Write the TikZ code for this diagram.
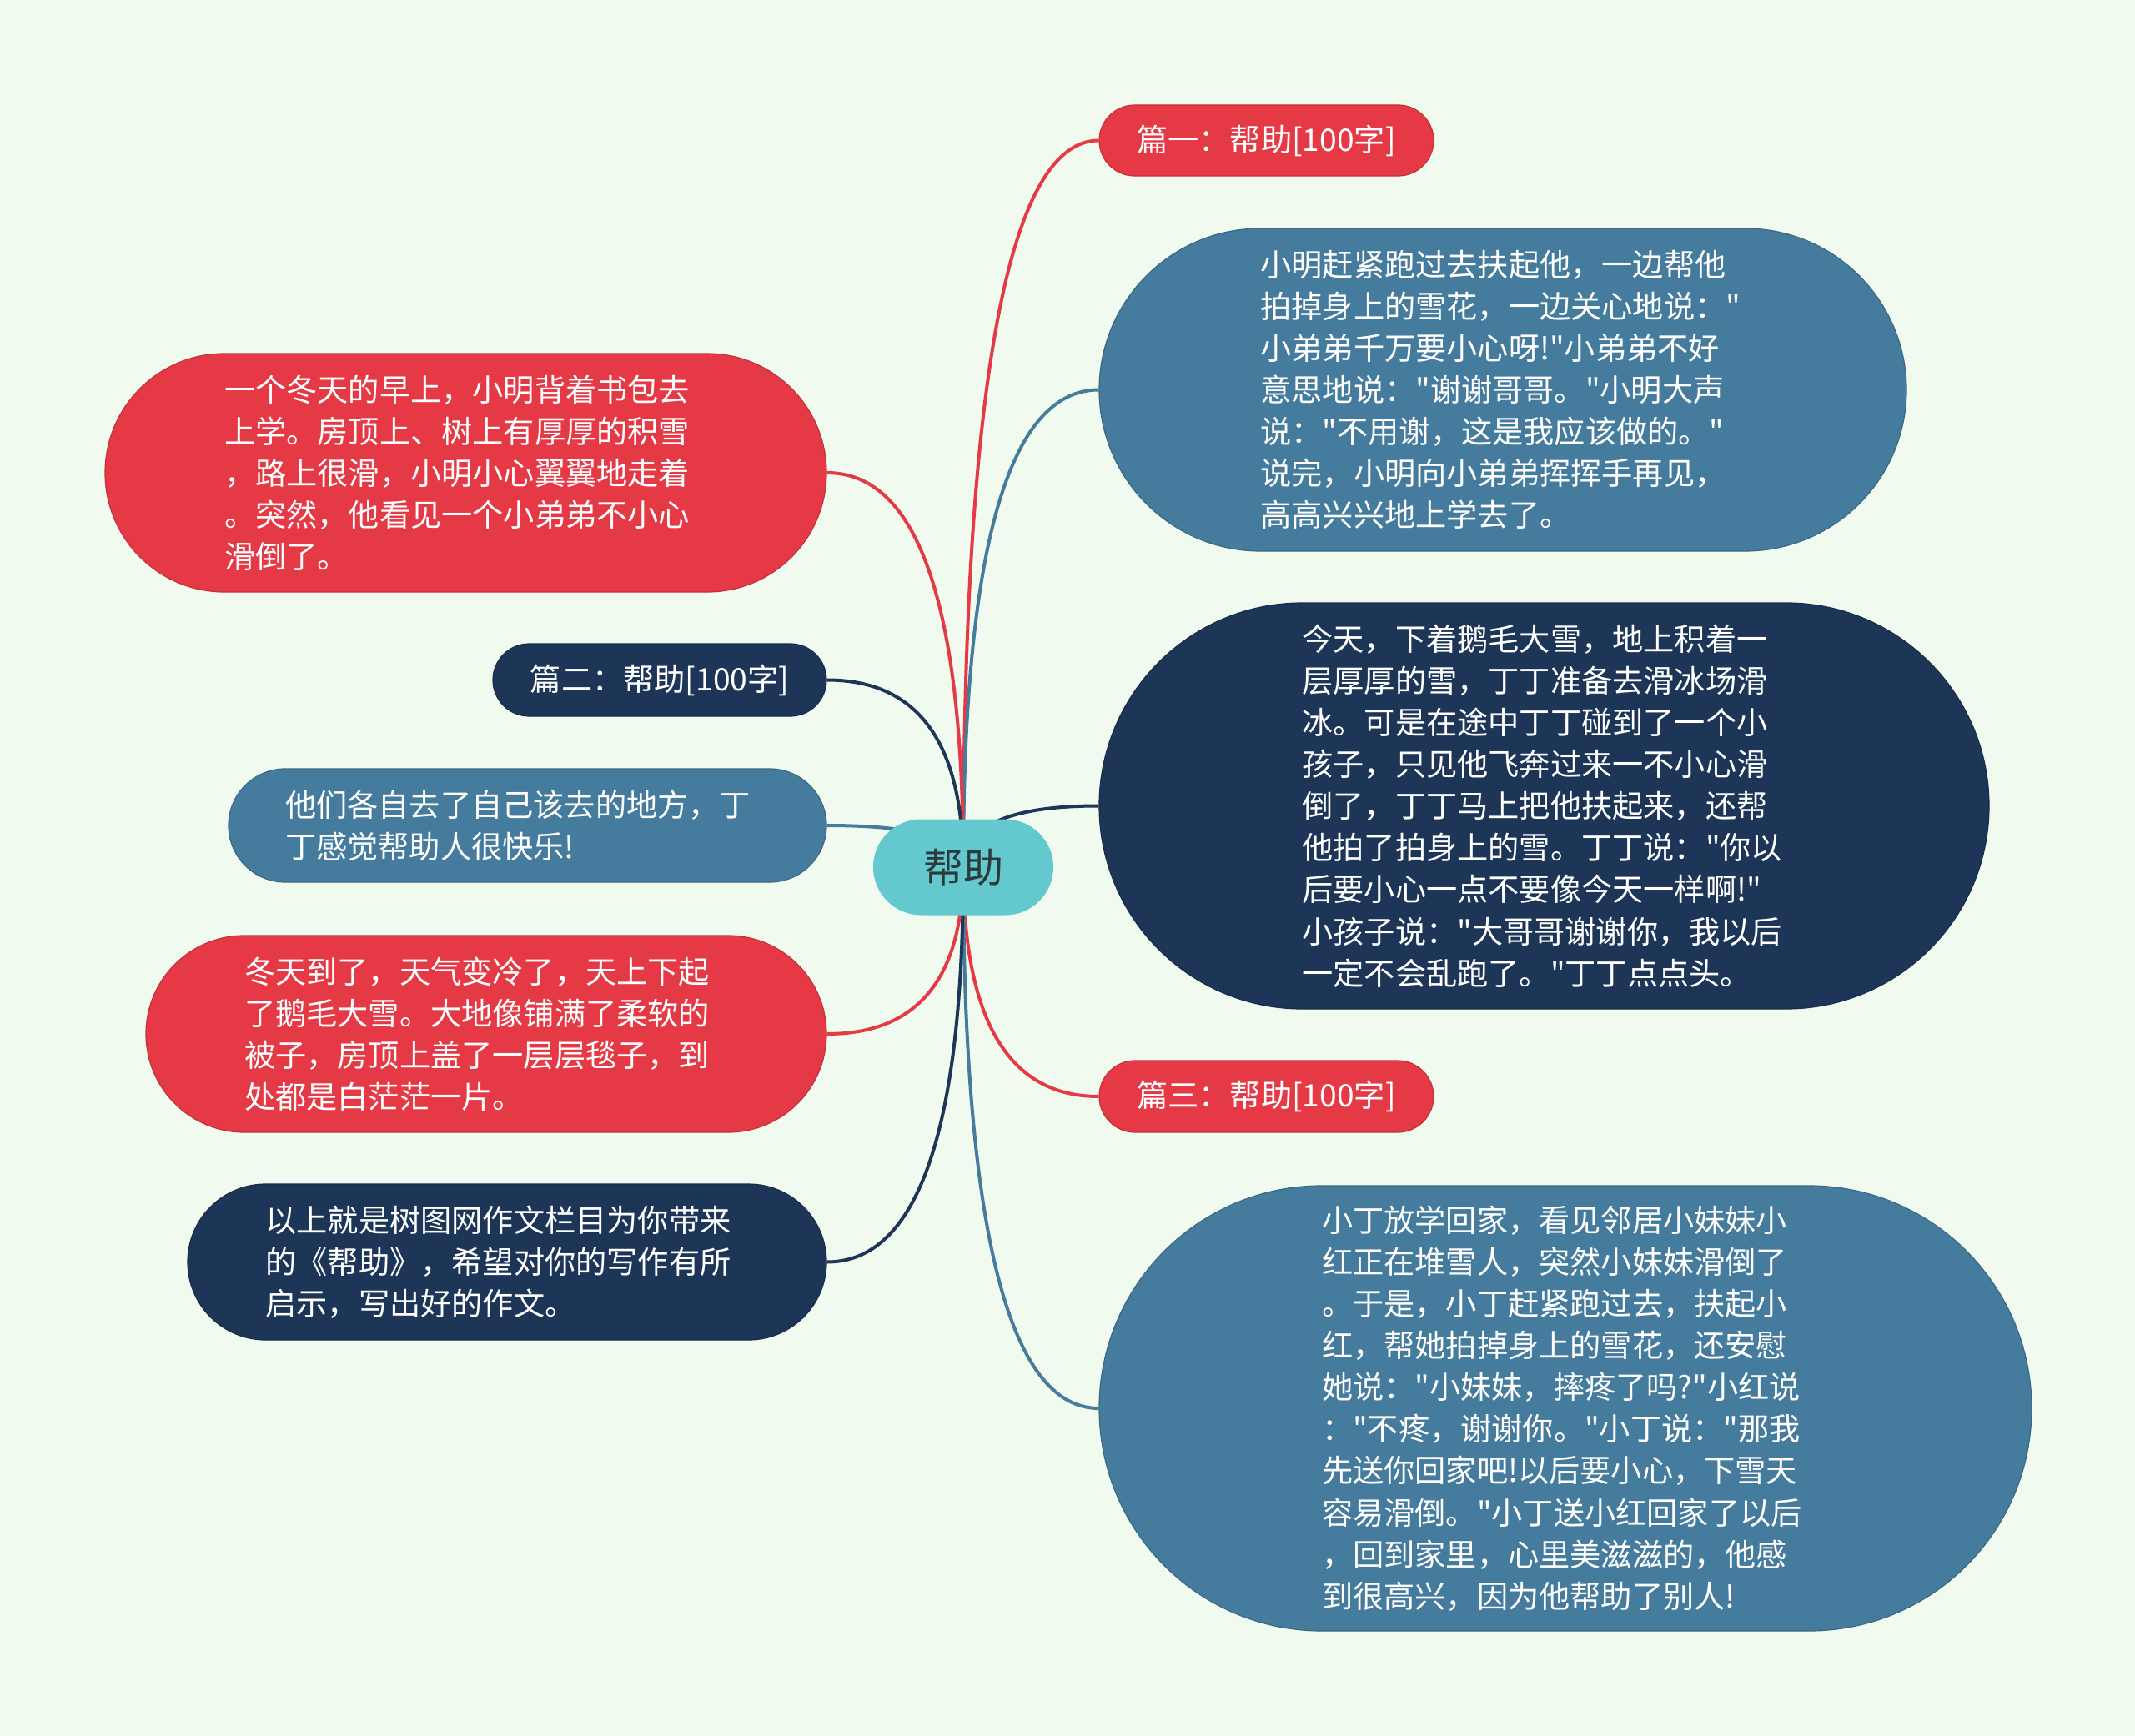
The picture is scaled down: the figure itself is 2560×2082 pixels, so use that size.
\documentclass[tikz,border=0pt]{standalone}
\usepackage{fontspec}
\newfontfamily\cjkfont{Noto Sans CJK SC}
\usetikzlibrary{calc}
\definecolor{bgc}{HTML}{F1FAEE}
\definecolor{cred}{HTML}{E63946}
\definecolor{cblue}{HTML}{457B9D}
\definecolor{cnavy}{HTML}{1D3557}
\definecolor{cteal}{HTML}{64C9CE}
\definecolor{croottext}{HTML}{2B3A3A}
\pgfdeclarelayer{background}
\pgfsetlayers{background,main}
\newcommand\linkto[3]{%
  \coordinate (q) at (root.center |- #2.#3);
  \draw[link,#1] (root.center) .. controls ($(root.center)!0.6667!(q)$) and ($(#2.#3)!0.6667!(q)$) .. (#2.#3);}
\tikzset{
  bx/.style n args={5}{rectangle, inner sep=0pt, fill=#1, draw=#1!85!black, line width=1.2pt,
    minimum width=#2pt, minimum height=#3pt, text width=#4pt, rounded corners=#5pt,
    align=left, text=white, font={\cjkfont\fontsize{37.2pt}{50.1pt}\selectfont}},
  ttl/.style n args={4}{rectangle, inner sep=0pt, fill=#1, draw=#1!85!black, line width=1.2pt,
    minimum width=#2pt, minimum height=#3pt, rounded corners=#4pt,
    align=center, text=white, font={\cjkfont\fontsize{37.2pt}{50.1pt}\selectfont}},
  link/.style={line width=4pt},
}
\begin{document}
\begin{tikzpicture}[x=1pt,y=-1pt]
\useasboundingbox (0,0) rectangle (2560,2082);
\begin{pgfonlayer}{background}
\fill[bgc] (0,0) rectangle (2560,2082);
\end{pgfonlayer}

\node[rectangle, inner sep=0pt, fill=cteal, minimum width=216pt, minimum height=115pt, rounded corners=57.5pt,
  text=croottext, font={\cjkfont\fontsize{48pt}{56pt}\selectfont}] (root) at (1155,1040) {帮助};

% right side
\node[ttl={cred}{401}{85}{42.5}] (t1) at (1518.5,168.5) {篇一：帮助[100字]};
\node[bx={cblue}{968}{387}{581}{193.5}] (t2) at (1802,467.5) {小明赶紧跑过去扶起他，一边帮他\\拍掉身上的雪花，一边关心地说："\\小弟弟千万要小心呀!"小弟弟不好\\意思地说："谢谢哥哥。"小明大声\\说："不用谢，这是我应该做的。"\\说完，小明向小弟弟挥挥手再见，\\高高兴兴地上学去了。};
\node[bx={cnavy}{1067}{487}{580}{243.5}] (t3) at (1851.5,966.5) {今天，下着鹅毛大雪，地上积着一\\层厚厚的雪，丁丁准备去滑冰场滑\\冰。可是在途中丁丁碰到了一个小\\孩子，只见他飞奔过来一不小心滑\\倒了，丁丁马上把他扶起来，还帮\\他拍了拍身上的雪。丁丁说："你以\\后要小心一点不要像今天一样啊!"\\小孩子说："大哥哥谢谢你，我以后\\一定不会乱跑了。"丁丁点点头。};
\node[ttl={cred}{401}{86}{43}] (t4) at (1518.5,1315) {篇三：帮助[100字]};
\node[bx={cblue}{1118}{534}{584}{267}] (t5) at (1877,1689) {小丁放学回家，看见邻居小妹妹小\\红正在堆雪人，突然小妹妹滑倒了\\。于是，小丁赶紧跑过去，扶起小\\红，帮她拍掉身上的雪花，还安慰\\她说："小妹妹，摔疼了吗?"小红说\\："不疼，谢谢你。"小丁说："那我\\先送你回家吧!以后要小心，下雪天\\容易滑倒。"小丁送小红回家了以后\\，回到家里，心里美滋滋的，他感\\到很高兴，因为他帮助了别人!};

% left side
\node[bx={cred}{865}{286}{579}{143}] (l1) at (558.5,567) {一个冬天的早上，小明背着书包去\\上学。房顶上、树上有厚厚的积雪\\，路上很滑，小明小心翼翼地走着\\。突然，他看见一个小弟弟不小心\\滑倒了。};
\node[ttl={cnavy}{400}{87}{43.5}] (l2) at (791,815.5) {篇二：帮助[100字]};
\node[bx={cblue}{717}{136}{581}{68}] (l3) at (632.5,990) {他们各自去了自己该去的地方，丁\\丁感觉帮助人很快乐!};
\node[bx={cred}{816}{236}{580}{118}] (l4) at (583,1240) {冬天到了，天气变冷了，天上下起\\了鹅毛大雪。大地像铺满了柔软的\\被子，房顶上盖了一层层毯子，到\\处都是白茫茫一片。};
\node[bx={cnavy}{766}{187}{579}{93.5}] (l5) at (608,1513.5) {以上就是树图网作文栏目为你带来\\的《帮助》，希望对你的写作有所\\启示，写出好的作文。};

\begin{pgfonlayer}{background}
\linkto{cred}{t1}{west}
\linkto{cblue}{t2}{west}
\linkto{cnavy}{t3}{west}
\linkto{cred}{t4}{west}
\linkto{cblue}{t5}{west}
\linkto{cred}{l1}{east}
\linkto{cnavy}{l2}{east}
\linkto{cblue}{l3}{east}
\linkto{cred}{l4}{east}
\linkto{cnavy}{l5}{east}
\end{pgfonlayer}
\end{tikzpicture}
\end{document}
